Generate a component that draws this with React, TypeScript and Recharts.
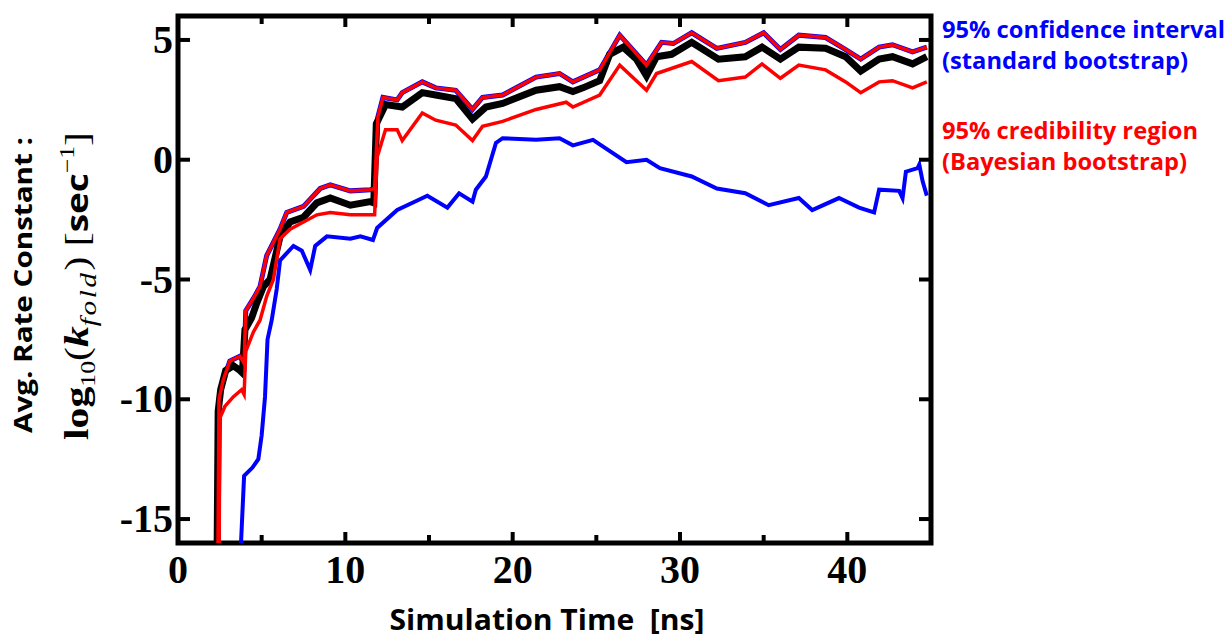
import { LineChart, Line, XAxis, YAxis, ReferenceArea } from "recharts";

// axis ticks (every 5 ns on x, only the 10s are labelled)
const xTicks = [0, 5, 10, 15, 20, 25, 30, 35, 40];
const yTicks = [-15, -10, -5, 0, 5];

// mean log10(k_fold) (black)
const meanX = [2.33, 2.4, 2.55, 2.85, 3.3, 3.7, 3.85, 4.0, 4.4, 4.7, 5.1, 5.5, 6.1, 6.7, 7.5, 8.3, 9.1, 10.3, 11.5, 11.7, 11.85, 12.4, 13.4, 14.6, 15.4, 16.6, 17.6, 18.4, 19.4, 21.4, 22.8, 23.6, 24.2, 25.2, 25.8, 26.6, 27.4, 28.0, 28.6, 29.5, 30.7, 32.3, 33.9, 34.9, 36.0, 37.1, 38.7, 39.9, 40.8, 41.9, 42.7, 43.9, 44.75];
const meanY = [-17, -10.5, -9.6, -8.8, -8.6, -8.8, -8.9, -7.1, -6.6, -6.0, -5.3, -5.0, -3.2, -2.6, -2.4, -1.8, -1.6, -1.9, -1.75, -1.8, 1.5, 2.3, 2.2, 2.8, 2.7, 2.55, 1.7, 2.2, 2.35, 2.9, 3.05, 2.85, 3.0, 3.3, 4.4, 4.7, 4.2, 3.5, 4.3, 4.4, 4.9, 4.2, 4.3, 4.7, 4.2, 4.7, 4.65, 4.3, 3.7, 4.2, 4.3, 4.0, 4.3];

// 95% credibility region, upper (red)
const redUpX = [2.38, 2.45, 2.7, 3.1, 3.7, 3.95, 4.05, 4.5, 4.9, 5.3, 6.1, 6.5, 7.5, 8.5, 9.1, 10.3, 11.5, 11.75, 11.95, 12.25, 13.1, 13.4, 14.6, 15.4, 16.6, 17.6, 18.2, 19.4, 21.4, 22.8, 23.6, 25.2, 26.4, 28.0, 28.9, 29.6, 30.7, 32.2, 33.9, 35.0, 36.0, 37.1, 38.7, 39.9, 40.8, 41.9, 42.7, 43.9, 44.75];
const redUpY = [-17, -10.0, -9.2, -8.4, -8.2, -8.5, -6.3, -5.8, -5.3, -4.0, -2.9, -2.2, -1.95, -1.2, -1.05, -1.3, -1.25, -1.2, 1.8, 2.6, 2.5, 2.8, 3.25, 3.0, 2.9, 2.1, 2.6, 2.7, 3.45, 3.6, 3.25, 3.75, 5.2, 3.95, 4.9, 4.85, 5.3, 4.65, 4.9, 5.3, 4.6, 5.2, 5.1, 4.6, 4.2, 4.7, 4.8, 4.5, 4.7];

// 95% confidence interval, upper (blue) - runs just under the red upper bound
const blueUpX = redUpX;
const blueUpY = redUpY;

// 95% credibility region, lower (red)
const redLoX = [2.45, 2.5, 2.8, 3.3, 3.8, 3.95, 4.05, 4.5, 4.9, 5.3, 5.7, 6.1, 6.7, 7.5, 8.3, 9.1, 10.3, 11.5, 11.75, 11.9, 12.4, 13.1, 13.4, 14.6, 15.4, 16.6, 17.6, 18.2, 19.4, 21.4, 23.2, 23.6, 25.2, 26.4, 28.0, 28.6, 30.7, 32.3, 33.9, 34.9, 36.0, 37.1, 38.7, 39.9, 40.8, 41.9, 42.7, 43.9, 44.75];
const redLoY = [-17, -10.8, -10.3, -9.9, -9.6, -9.8, -8.0, -7.2, -6.7, -5.7, -5.0, -3.3, -2.9, -2.6, -2.3, -2.2, -2.3, -2.3, -2.3, 0.1, 1.25, 1.25, 0.8, 1.95, 1.65, 1.45, 0.8, 1.4, 1.6, 2.1, 2.4, 2.2, 2.7, 3.95, 2.9, 3.6, 4.1, 3.3, 3.45, 4.0, 3.4, 3.95, 3.75, 3.25, 2.8, 3.25, 3.3, 3.0, 3.25];

// 95% confidence interval, lower (blue)
const blueLoX = [3.7, 3.95, 4.45, 4.8, 5.0, 5.2, 5.3, 5.35, 5.6, 5.9, 6.1, 6.9, 7.4, 7.9, 8.2, 8.9, 10.3, 10.9, 11.65, 11.9, 13.1, 14.3, 14.9, 16.1, 16.8, 17.6, 17.8, 18.4, 19.0, 19.4, 21.4, 22.8, 23.6, 24.8, 26.8, 28.0, 28.8, 30.7, 32.2, 33.9, 35.3, 37.1, 37.9, 39.5, 40.7, 41.6, 41.9, 43.1, 43.3, 43.5, 44.2, 44.3, 44.5, 44.75];
const blueLoY = [-17, -13.2, -12.85, -12.5, -11.5, -9.9, -8.3, -7.5, -6.7, -5.4, -4.2, -3.6, -3.8, -4.6, -3.6, -3.2, -3.3, -3.2, -3.35, -2.85, -2.1, -1.7, -1.5, -2.0, -1.4, -1.75, -1.25, -0.7, 0.7, 0.9, 0.83, 0.9, 0.6, 0.83, -0.1, 0.0, -0.35, -0.7, -1.2, -1.4, -1.9, -1.6, -2.1, -1.6, -2.0, -2.2, -1.25, -1.3, -1.6, -0.5, -0.35, -0.2, -0.9, -1.5];

const toPoints = (xs: number[], ys: number[]) => xs.map((x, i) => ({ x, y: ys[i] }));

const serif = "'Liberation Serif', 'Times New Roman', serif";
const sans = "'Open Sans', 'Liberation Sans', sans-serif";
const X_DOMAIN: [number, number] = [0, 45];
const Y_DOMAIN: [number, number] = [-16, 6];

// plot box from the chart margins
const M = { top: 16, right: 300, bottom: 0, left: 0 };
const Y_AXIS_W = 178;
const X_AXIS_H = 94;
const CHART_W = 1231;
const CHART_H = 637;
const PLOT_TOP = M.top;
const PLOT_BOTTOM = CHART_H - M.bottom - X_AXIS_H;
const PLOT_RIGHT = CHART_W - M.right;
const PLOT_LEFT = M.left + Y_AXIS_W;

// x tick: label (10s only) plus inward marks at bottom and top
function XTick(props: any) {
  const { x, payload } = props;
  const v = payload.value;
  const major = v % 10 === 0;
  const len = major ? 11 : 8;
  return (
    <g>
      {v > 0 && <line x1={x} x2={x} y1={PLOT_BOTTOM} y2={PLOT_BOTTOM - len} stroke="#000" strokeWidth={4} />}
      {v > 0 && <line x1={x} x2={x} y1={PLOT_TOP} y2={PLOT_TOP + len} stroke="#000" strokeWidth={4} />}
      {major && (
        <text x={x} y={PLOT_BOTTOM + 40} textAnchor="middle" fontFamily={serif} fontWeight={700} fontSize={40} fill="#000">
          {v}
        </text>
      )}
    </g>
  );
}

// y tick: label plus inward marks at left and right
function YTick(props: any) {
  const { y, payload } = props;
  return (
    <g>
      <line x1={PLOT_LEFT} x2={PLOT_LEFT + 12} y1={y} y2={y} stroke="#000" strokeWidth={4} />
      <line x1={PLOT_RIGHT} x2={PLOT_RIGHT - 12} y1={y} y2={y} stroke="#000" strokeWidth={4} />
      <text x={PLOT_LEFT - 5} y={y + 13} textAnchor="end" fontFamily={serif} fontWeight={700} fontSize={40} fill="#000">
        {payload.value}
      </text>
    </g>
  );
}

export default function App() {
  return (
    <div style={{ position: "absolute", left: 0, top: 0, width: CHART_W, height: CHART_H, background: "#fff" }}>
      <LineChart width={CHART_W} height={CHART_H} margin={M}>
        <XAxis xAxisId="main" type="number" dataKey="x" domain={X_DOMAIN} ticks={xTicks} interval={0}
          allowDataOverflow axisLine={false} tickLine={false} tickSize={0} height={X_AXIS_H} tick={<XTick />} />
        <YAxis yAxisId="main" type="number" dataKey="y" domain={Y_DOMAIN} ticks={yTicks} interval={0}
          allowDataOverflow axisLine={false} tickLine={false} tickSize={0} width={Y_AXIS_W} tick={<YTick />} />

        <Line xAxisId="main" yAxisId="main" data={toPoints(blueUpX, blueUpY)} dataKey="y" type="linear"
          stroke="#0000ff" strokeWidth={5} dot={false} isAnimationActive={false} />
        <Line xAxisId="main" yAxisId="main" data={toPoints(blueLoX, blueLoY)} dataKey="y" type="linear"
          stroke="#0000ff" strokeWidth={4} dot={false} isAnimationActive={false} />
        <Line xAxisId="main" yAxisId="main" data={toPoints(meanX, meanY)} dataKey="y" type="linear"
          stroke="#000" strokeWidth={7} dot={false} isAnimationActive={false} />
        <Line xAxisId="main" yAxisId="main" data={toPoints(redUpX, redUpY)} dataKey="y" type="linear"
          stroke="#ff0000" strokeWidth={3.5} dot={false} isAnimationActive={false} />
        <Line xAxisId="main" yAxisId="main" data={toPoints(redLoX, redLoY)} dataKey="y" type="linear"
          stroke="#ff0000" strokeWidth={3.5} dot={false} isAnimationActive={false} />

        <ReferenceArea xAxisId="main" yAxisId="main" x1={0} x2={45} y1={-16} y2={6}
          fill="none" fillOpacity={0} stroke="#000" strokeWidth={5} ifOverflow="visible" />
      </LineChart>

      <svg width={CHART_W} height={CHART_H} style={{ position: "absolute", left: 0, top: 0, pointerEvents: "none" }}>
        <text transform="translate(32,433) rotate(-90)" fontFamily={sans} fontWeight={700} fontSize={25}
          textLength={296} lengthAdjust="spacingAndGlyphs">Avg. Rate Constant :</text>
        <text transform="translate(88,440) rotate(-90)" fontFamily={serif} fontSize={34}
          textLength={308} lengthAdjust="spacingAndGlyphs">
          <tspan fontWeight={700}>log</tspan>
          <tspan fontSize={21} dy={7}>10</tspan>
          <tspan dy={-7}>(</tspan>
          <tspan fontStyle="italic" fontWeight={700}>k</tspan>
          <tspan fontStyle="italic" fontSize={24} dy={8} letterSpacing={2}>fold</tspan>
          <tspan dy={-8}>{")\u00a0["}</tspan>
          <tspan fontFamily={sans} fontWeight={700} fontSize={30}>sec</tspan>
          <tspan fontSize={21} dy={-14}>{"\u22121"}</tspan>
          <tspan dy={14}>]</tspan>
        </text>
        <text x={547} y={630} textAnchor="middle" fontFamily={sans} fontWeight={700} fontSize={28}
          textLength={315} lengthAdjust="spacingAndGlyphs">{"Simulation Time\u00a0 [ns]"}</text>

        <g fontFamily={sans} fontWeight={700} fontSize={24}>
          <text x={942} y={38} fill="#0000ff" textLength={283} lengthAdjust="spacingAndGlyphs">95% confidence interval</text>
          <text x={942} y={69} fill="#0000ff" textLength={246} lengthAdjust="spacingAndGlyphs">(standard bootstrap)</text>
          <text x={942} y={139} fill="#ff0000" textLength={256} lengthAdjust="spacingAndGlyphs">95% credibility region</text>
          <text x={942} y={170} fill="#ff0000" textLength={245} lengthAdjust="spacingAndGlyphs">(Bayesian bootstrap)</text>
        </g>
      </svg>
    </div>
  );
}
